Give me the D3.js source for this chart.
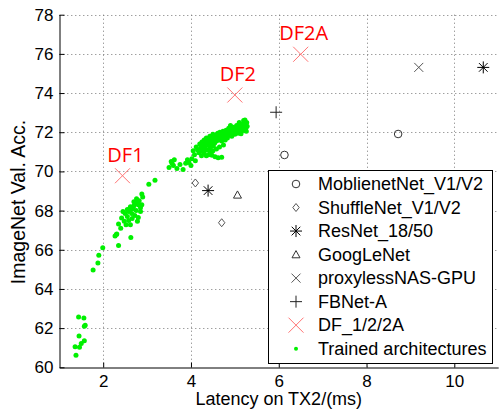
<!DOCTYPE html>
<html>
<head>
<meta charset="utf-8">
<script src="https://cdn.jsdelivr.net/npm/d3@7"></script>
<style>
  html, body { margin: 0; padding: 0; background: #fff; }
  svg { display: block; font-family: Arial, "Liberation Sans", sans-serif; }
</style>
</head>
<body>
<svg id="chart" width="499" height="412"></svg>
<script>
// latency (ms) vs ImageNet accuracy (%)
var mobilenet  = [[6.13, 70.84], [8.72, 71.91]];
var shufflenet = [[4.10, 69.41], [4.70, 67.38]];
var resnet     = [[4.39, 69.02], [10.66, 75.31]];
var googlenet  = [[5.06, 68.80]];
var proxyless  = [[9.19, 75.31]];
var fbnet      = [[5.94, 73.02]];
var dfNets     = [[2.44, 69.78], [5.00, 73.90], [6.50, 75.98]];
var dfLabels   = ["DF1", "DF2", "DF2A"];

var trained = [
  [1.38, 60.62], [1.36, 61.05], [1.46, 61.02], [1.50, 61.22], [1.57, 61.35],
  [1.45, 61.60], [1.57, 62.10], [1.59, 62.15], [1.44, 62.57], [1.56, 62.52],
  [1.77, 64.97], [1.88, 65.32], [1.90, 65.72], [1.99, 66.10],
  [2.27, 66.70], [2.30, 66.78], [2.35, 66.22], [2.63, 66.62], [2.35, 67.32],
  [2.42, 67.62], [2.52, 67.28], [2.45, 67.95], [2.55, 67.70], [2.62, 67.28],
  [2.58, 67.50], [2.50, 67.85], [2.55, 68.05], [2.60, 68.00], [2.65, 67.85],
  [2.68, 68.10], [2.70, 68.25], [2.62, 68.20], [2.75, 68.00], [2.78, 67.45],
  [2.80, 67.65], [2.75, 68.40], [2.80, 68.30], [2.85, 68.15], [2.82, 68.50],
  [2.76, 68.60], [2.88, 68.30], [2.70, 68.45], [2.58, 67.95], [2.48, 67.45],
  [2.72, 67.75], [2.85, 67.95], [2.66, 67.60], [2.40, 67.10], [2.88, 68.85],
  [2.90, 68.70], [2.31, 66.80],
  [3.04, 69.35], [3.18, 69.55], [3.55, 70.50], [3.60, 70.30], [3.68, 70.15],
  [3.75, 70.35], [3.82, 70.10], [3.88, 70.42], [3.50, 70.20], [3.62, 70.60],
  [3.57, 70.40], [3.95, 70.45], [4.00, 70.30], [3.92, 70.60], [4.02, 70.65],
  [4.10, 70.55],
  [4.05, 71.05], [4.08, 70.85], [4.12, 71.25], [4.15, 71.10], [4.18, 70.95],
  [4.20, 71.40], [4.22, 71.20], [4.25, 71.50], [4.27, 71.05], [4.28, 71.35],
  [4.30, 71.60], [4.32, 71.25], [4.33, 71.45], [4.35, 71.70], [4.36, 71.10],
  [4.38, 71.50], [4.40, 71.35], [4.41, 71.65], [4.43, 71.80], [4.44, 71.20],
  [4.45, 71.55], [4.47, 71.40], [4.48, 71.70], [4.50, 71.90], [4.51, 71.30],
  [4.52, 71.60], [4.54, 71.45], [4.55, 71.75], [4.57, 71.85], [4.58, 71.55],
  [4.60, 71.70], [4.61, 71.95], [4.63, 71.60], [4.64, 71.80], [4.66, 72.00],
  [4.67, 71.70], [4.69, 71.90], [4.70, 71.55], [4.72, 71.80], [4.73, 72.05],
  [4.75, 71.75], [4.76, 71.95], [4.78, 71.60], [4.79, 71.85], [4.80, 72.10],
  [4.82, 71.90], [4.83, 71.70], [4.85, 72.00], [4.86, 72.20], [4.87, 71.85],
  [4.89, 72.05], [4.90, 71.95], [4.92, 72.15], [4.93, 71.80], [4.95, 72.00],
  [4.96, 72.25], [4.98, 72.10], [5.00, 71.90], [5.01, 72.20], [5.03, 72.05],
  [5.04, 72.35], [5.06, 72.15], [5.07, 71.95], [5.09, 72.25], [5.10, 72.10],
  [5.12, 72.40], [5.13, 72.20], [5.15, 72.05], [5.16, 72.30], [5.18, 72.15],
  [5.19, 72.45], [5.21, 72.25], [5.22, 72.10], [5.24, 72.35], [5.25, 72.20],
  [5.27, 72.50], [5.28, 72.30], [5.20, 72.60], [5.10, 72.50], [4.90, 72.35],
  [4.30, 70.95], [4.40, 70.85], [4.50, 71.05], [4.55, 70.75], [4.62, 70.70],
  [4.70, 70.72], [4.58, 71.15], [4.45, 70.95], [4.35, 70.80],
  [4.20, 71.00], [4.24, 70.80], [4.33, 71.15], [4.42, 71.05], [4.48, 70.82],
  [4.65, 71.25], [4.74, 71.35], [5.23, 72.62], [5.26, 72.05], [5.14, 71.92]
];

var xTicks = [2, 4, 6, 8, 10];
var yTicks = [60, 62, 64, 66, 68, 70, 72, 74, 76, 78];

var legendLabels = ["MoblienetNet_V1/V2", "ShuffleNet_V1/V2", "ResNet_18/50", "GoogLeNet",
                    "proxylessNAS-GPU", "FBNet-A", "DF_1/2/2A", "Trained architectures"];

var svg = d3.select("#chart");
var plotLeft = 59.3, plotRight = 498.2, plotTop = 14.7, plotBottom = 367.3;

var x = d3.scaleLinear().domain([1, 11]).range([plotLeft, plotRight]);
var y = d3.scaleLinear().domain([60, 78]).range([plotBottom, plotTop]);

// dotted grid
var grid = svg.append("g").attr("stroke", "#777").attr("stroke-width", 1)
  .attr("stroke-dasharray", "1,3");
grid.selectAll("line.v").data(xTicks).join("line")
  .attr("x1", d => Math.round(x(d)) + 0.5).attr("x2", d => Math.round(x(d)) + 0.5)
  .attr("y1", plotTop).attr("y2", plotBottom);
grid.selectAll("line.h").data(yTicks.slice(1)).join("line")
  .attr("x1", plotLeft).attr("x2", plotRight)
  .attr("y1", d => Math.round(y(d)) + 0.5).attr("y2", d => Math.round(y(d)) + 0.5);

// axes (matlab style, inward ticks, no box)
var xAxis = svg.append("g").attr("transform", `translate(0,${Math.round(plotBottom) + 0.5})`)
  .call(d3.axisBottom(x).tickValues(xTicks).tickSizeInner(-5).tickSizeOuter(0).tickPadding(7));
var yAxis = svg.append("g").attr("transform", `translate(${Math.round(plotLeft) + 0.5},0)`)
  .call(d3.axisLeft(y).tickValues(yTicks).tickSizeInner(-5).tickSizeOuter(0).tickPadding(6));
[xAxis, yAxis].forEach(function (a) {
  a.select(".domain").attr("stroke", "#000");
  a.selectAll(".tick line").attr("stroke", "#000");
  a.selectAll("text").attr("font-size", 17).attr("fill", "#000")
    .attr("font-family", "Arial, 'Liberation Sans', sans-serif");
});

svg.append("text").attr("x", (plotLeft + plotRight) / 2).attr("y", 405)
  .attr("text-anchor", "middle").attr("font-size", 18).text("Latency on TX2/(ms)");
svg.append("text").attr("transform", "translate(25,202) rotate(-90)")
  .attr("text-anchor", "middle").attr("font-size", 19.5).text("ImageNet Val. Acc.");

// marker shapes
function shape(kind, s) {
  switch (kind) {
    case "circle": return d3.arc()({innerRadius: 0, outerRadius: s, startAngle: 0, endAngle: 2 * Math.PI});
    case "diamond": return `M0,${-s}L${s * 0.8},0L0,${s}L${-s * 0.8},0Z`;
    case "triangle": return `M0,${-s}L${s},${s * 0.8}L${-s},${s * 0.8}Z`;
    case "x": return `M${-s},${-s}L${s},${s}M${-s},${s}L${s},${-s}`;
    case "plus": return `M${-s},0L${s},0M0,${-s}L0,${s}`;
    case "star": var d = s * 0.72;
      return `M${-s},0L${s},0M0,${-s}L0,${s}M${-d},${-d}L${d},${d}M${-d},${d}L${d},${-d}`;
  }
}

var series = [
  {data: mobilenet, kind: "circle", size: 3.8, color: "#333"},
  {data: shufflenet, kind: "diamond", size: 4, color: "#555"},
  {data: resnet, kind: "star", size: 6, color: "#000"},
  {data: googlenet, kind: "triangle", size: 4, color: "#333"},
  {data: proxyless, kind: "x", size: 4.5, color: "#555"},
  {data: fbnet, kind: "plus", size: 6, color: "#222"},
  {data: dfNets, kind: "x", size: 7.5, color: "#ff7373"}
];

// trained architectures
svg.append("g").selectAll("circle").data(trained).join("circle")
  .attr("cx", d => x(d[0])).attr("cy", d => y(d[1])).attr("r", 2.5)
  .attr("fill", "#00f000");

series.forEach(function (s) {
  svg.append("g").selectAll("path").data(s.data).join("path")
    .attr("transform", d => `translate(${x(d[0])},${y(d[1])})`)
    .attr("d", shape(s.kind, s.size))
    .attr("fill", "none").attr("stroke", s.color).attr("stroke-width", 1);
});

svg.append("g").selectAll("text").data(dfNets).join("text")
  .attr("x", d => x(d[0]) + 3).attr("y", d => y(d[1]) - 14)
  .attr("text-anchor", "middle").attr("fill", "#ff0000")
  .attr("font-family", "'Open Sans', sans-serif").attr("font-size", 20)
  .text((d, i) => dfLabels[i]);

// legend
var legend = svg.append("g");
legend.append("rect").attr("x", 268.5).attr("y", 170.5).attr("width", 224).attr("height", 193)
  .attr("fill", "#fff").attr("stroke", "#000").attr("stroke-width", 1);
var rowY = d3.scalePoint().domain(d3.range(legendLabels.length)).range([184, 348.7]);
var rows = legend.selectAll("g").data(legendLabels).join("g")
  .attr("transform", (d, i) => `translate(0,${rowY(i)})`);
rows.append("text").attr("x", 318).attr("dy", "0.35em").attr("font-size", 18).text(d => d);
rows.each(function (d, i) {
  var g = d3.select(this);
  if (i < series.length) {
    var s = series[i];
    g.append("path").attr("transform", "translate(296,0)")
      .attr("d", shape(s.kind, s.size)).attr("fill", "none")
      .attr("stroke", s.color).attr("stroke-width", 1);
  } else {
    g.append("circle").attr("cx", 296).attr("r", 2).attr("fill", "#00f000");
  }
});
</script>
</body>
</html>
